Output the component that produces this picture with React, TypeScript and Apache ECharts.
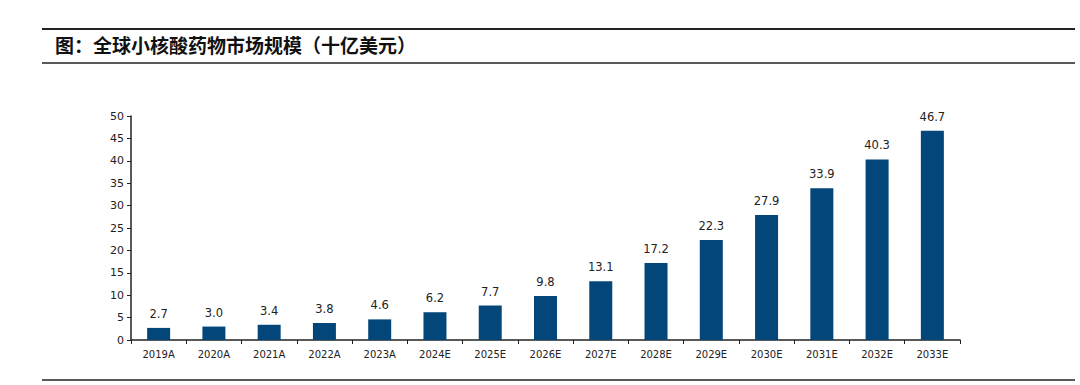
import React, { useEffect, useRef } from "react";
import * as echarts from "echarts";

const categories = ["2019A","2020A","2021A","2022A","2023A","2024E","2025E","2026E","2027E","2028E","2029E","2030E","2031E","2032E","2033E"];
const values = [2.7, 3.0, 3.4, 3.8, 4.6, 6.2, 7.7, 9.8, 13.1, 17.2, 22.3, 27.9, 33.9, 40.3, 46.7];
const yTicks = { min: 0, max: 50, interval: 5 };
const title = "图：全球小核酸药物市场规模（十亿美元）";

export default function App() {
  const ref = useRef<HTMLDivElement>(null);
  useEffect(() => {
    if (!ref.current) return;
    const chart = echarts.init(ref.current, null, { renderer: "svg" });
    chart.setOption({
      animation: false,
      backgroundColor: "#ffffff",
      grid: { left: 131, right: 120, top: 116, bottom: 45 },
      graphic: [
        { type: "line", shape: { x1: 42, y1: 29, x2: 1075, y2: 29 }, style: { stroke: "#222", lineWidth: 2 } },
        { type: "line", shape: { x1: 42, y1: 63, x2: 1075, y2: 63 }, style: { stroke: "#222", lineWidth: 1.5 } },
        { type: "line", shape: { x1: 42, y1: 380, x2: 1075, y2: 380 }, style: { stroke: "#222", lineWidth: 1.5 } },
        {
          type: "text", left: 55, top: 35,
          style: { text: title, fontSize: 19, fontWeight: "bold", fill: "#111", fontFamily: "Noto Sans CJK SC" },
        },
      ],
      xAxis: {
        type: "category",
        data: categories,
        axisLine: { lineStyle: { color: "#222", width: 1.5 } },
        axisTick: { show: true, alignWithLabel: false, length: 4, lineStyle: { color: "#222" } },
        axisLabel: { color: "#222", fontSize: 10, margin: 9, fontFamily: "DejaVu Sans" },
      },
      yAxis: {
        type: "value",
        min: yTicks.min, max: yTicks.max, interval: yTicks.interval,
        axisLine: { show: true, lineStyle: { color: "#222", width: 1.5 } },
        axisTick: { show: true, length: 4, lineStyle: { color: "#222" } },
        splitLine: { show: false },
        axisLabel: { color: "#222", fontSize: 11, margin: 7, fontFamily: "DejaVu Sans" },
      },
      series: [
        {
          type: "bar",
          data: values,
          barWidth: 23,
          itemStyle: { color: "#03477A" },
          label: {
            show: true, position: "top", distance: 8,
            color: "#222", fontSize: 11.5, fontFamily: "DejaVu Sans",
            formatter: (p: any) => p.value.toFixed(1),
          },
        },
      ],
    });
    return () => chart.dispose();
  }, []);
  return <div ref={ref} style={{ position: "fixed", left: 0, top: 0, width: 1080, height: 385 }} />;
}
